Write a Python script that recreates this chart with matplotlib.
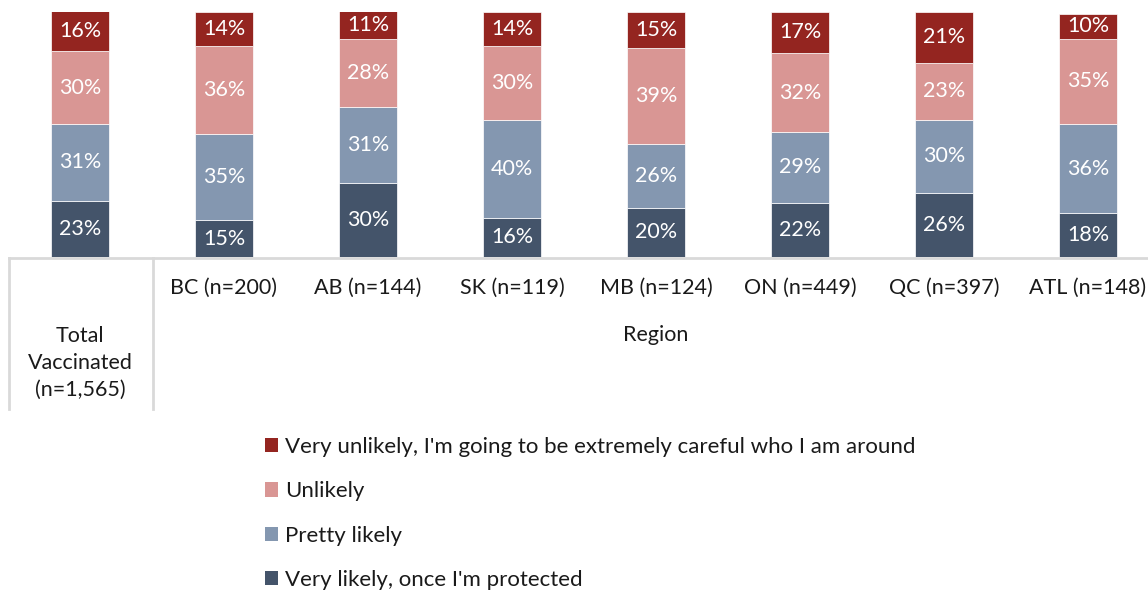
import matplotlib.pyplot as plt
from matplotlib.patches import Patch
from matplotlib.lines import Line2D
import numpy as np

plt.rcParams['font.family'] = ['Lato', 'DejaVu Sans']

# datos
groups = ["Total\nVaccinated\n(n=1,565)", "BC (n=200)", "AB (n=144)", "SK (n=119)",
          "MB (n=124)", "ON (n=449)", "QC (n=397)", "ATL (n=148)"]
very_likely = [23, 15, 30, 16, 20, 22, 26, 18]
pretty_likely = [31, 35, 31, 40, 26, 29, 30, 36]
unlikely = [30, 36, 28, 30, 39, 32, 23, 35]
very_unlikely = [16, 14, 11, 14, 15, 17, 21, 10]

series = [
    ("Very likely, once I'm protected", very_likely, "#44546A"),
    ("Pretty likely", pretty_likely, "#8497B0"),
    ("Unlikely", unlikely, "#D99694"),
    ("Very unlikely, I'm going to be extremely careful who I am around", very_unlikely, "#942520"),
]

W, H = 1148, 592
fs = 15.5
fig = plt.figure(figsize=(W / 100, H / 100), dpi=100)

def fx(px):
    return px / W

def fy(py):
    return 1 - py / H

# ejes de barras (sin marco)
ax = fig.add_axes([0, fy(257), 1, (257 - 11.5) / H])
x = np.arange(len(groups))
step = 144.0
ax.set_xlim(-80 / step, (W - 80) / step)
ax.set_ylim(0, 100)
ax.axis('off')

bottom = np.zeros(len(groups))
for name, vals, col in series:
    vals = np.array(vals, dtype=float)
    ax.bar(x, vals, width=0.40, bottom=bottom, color=col, edgecolor='white', linewidth=0.5)
    for xi, b, v in zip(x, bottom, vals):
        ax.text(xi, b + v / 2, f"{int(v)}%", ha='center', va='center',
                color='white', fontsize=fs)
    bottom += vals

# lineas de la tabla de categorias
line_col = '#D9D9D9'
fig.add_artist(Line2D([fx(9), 1], [fy(257.5), fy(257.5)], color=line_col, lw=2))
fig.add_artist(Line2D([fx(9), fx(9)], [fy(257.5), fy(409)], color=line_col, lw=2))
fig.add_artist(Line2D([fx(153), fx(153)], [fy(257.5), fy(409)], color=line_col, lw=2))

# etiquetas de categoria
for i, g in enumerate(groups):
    xp = 80 + step * i
    if i == 0:
        fig.text(fx(xp), fy(363), g, ha='center', va='center', fontsize=fs,
                 linespacing=1.45, color='#1a1a1a')
    else:
        fig.text(fx(xp), fy(288), g, ha='center', va='center', fontsize=fs, color='#1a1a1a')
fig.text(fx(656), fy(335), "Region", ha='center', va='center', fontsize=fs, color='#1a1a1a')

# leyenda
handles = [Patch(facecolor=c, edgecolor='none', label=n) for n, _, c in series[::-1]]
fig.legend(handles=handles, loc='upper left', bbox_to_anchor=(fx(256), fy(428)),
           frameon=False, fontsize=16, handlelength=0.6, handleheight=0.6,
           handletextpad=0.32, labelspacing=1.1, borderaxespad=0, labelcolor='#1a1a1a')

fig.savefig("out.png", dpi=100)
